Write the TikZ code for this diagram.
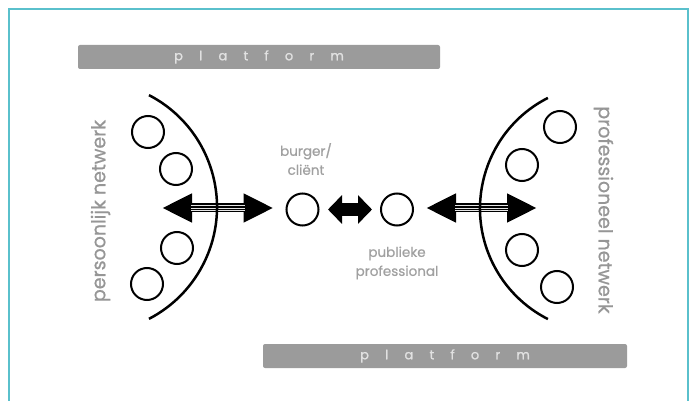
\documentclass[tikz,border=0pt]{standalone}
\usepackage{fontspec}
\setmainfont{Poppins}
\usetikzlibrary{arrows.meta}
\definecolor{framecol}{RGB}{90,192,204}
\definecolor{barfill}{RGB}{155,155,155}
\definecolor{bartxt}{RGB}{225,225,225}
\definecolor{labelgray}{RGB}{160,160,160}
\definecolor{sidegray}{RGB}{150,150,150}
\newcommand{\lsp}{\hspace{16.2pt}}
\begin{document}
\begin{tikzpicture}[x=1pt,y=-1pt,
  ring/.style={circle, draw=black, line width=2pt, minimum size=32pt, inner sep=0pt},
  arcline/.style={line width=2.5pt},
  bar/.style={fill=barfill, rounded corners=2pt, minimum height=24pt, inner sep=0pt,
    text=bartxt, font=\fontsize{13}{13}\selectfont\addfontfeature{FakeBold=1.2}},
  lbl/.style={text=labelgray, font=\fontsize{13.5}{19}\selectfont\addfontfeature{FakeBold=0.8}, align=center},
  side/.style={text=sidegray, font=\fontsize{19}{19}\selectfont\addfontfeature{FakeBold=0.8}},
  bigarrow/.style={line width=9pt, {Triangle[length=30pt,width=27pt]}-{Triangle[length=30pt,width=27pt]}},
  stripe/.style={white!80!gray, line width=0.9pt},
  midarrow/.style={line width=13pt, {Triangle[length=14pt,width=28pt]}-{Triangle[length=14pt,width=28pt]}},
]
\useasboundingbox (0,0) rectangle (689,401);
% frame
\draw[framecol, line width=2pt] (8.5,401) -- (8.5,9.5) -- (687.5,9.5) -- (687.5,401);

% platform bars
\node[bar, minimum width=362pt] (topbar) at (259,57) {p\lsp l\lsp a\lsp t\lsp f\lsp o\lsp r\lsp m};
\node[bar, minimum width=364pt] (botbar) at (445,356) {p\lsp l\lsp a\lsp t\lsp f\lsp o\lsp r\lsp m};

% side texts
\node[side, rotate=90] (pers) at (100.5,211) {persoonlijk netwerk};
\node[side, rotate=-90] (profnet) at (603.5,210) {professioneel netwerk};

% network circles
\node[ring] (l1) at (148,132) {};
\node[ring] (l2) at (176,169) {};
\node[ring] (l3) at (177,248) {};
\node[ring] (l4) at (147,284) {};
\node[ring] (r1) at (560,127) {};
\node[ring] (r2) at (522,165) {};
\node[ring] (r3) at (522,250) {};
\node[ring] (r4) at (557,287) {};

% central actors
\node[ring] (burger) at (302.5,209.5) {};
\node[ring] (prof) at (397,209.5) {};
\node[lbl] (burgerlbl) at (306,159) {burger/\\cliënt};
\node[lbl] (proflbl) at (397,263) {publieke\\professional};

% arrow end points
\coordinate (pl) at (162,208);
\coordinate (pr) at ([xshift=-12pt]burger.west |- pl);
\coordinate (ql) at ([xshift=12pt]prof.east |- pl);
\coordinate (qr) at (537,208);

% left big arrow
\draw[bigarrow] (pl) -- (pr);
\foreach \s in {-2.25,0,2.25}{
  \draw[stripe] ([xshift=29pt,yshift=\s pt]pl) -- ([xshift=-29pt,yshift=\s pt]pr);
}
% right big arrow
\draw[bigarrow] (ql) -- (qr);
\foreach \s in {-2.25,0,2.25}{
  \draw[stripe] ([xshift=29pt,yshift=\s pt]ql) -- ([xshift=-29pt,yshift=\s pt]qr);
}
% middle arrow
\draw[midarrow] ([xshift=8.5pt]burger.east) -- ([xshift=-8pt]prof.west);

% arcs
\draw[arcline] (91,207) ++(-62.6:126) arc[start angle=-62.6, end angle=62.6, radius=126];
\draw[arcline] (604,208.5) ++(243.1:124) arc[start angle=243.1, end angle=116.9, radius=124];
\end{tikzpicture}
\end{document}
